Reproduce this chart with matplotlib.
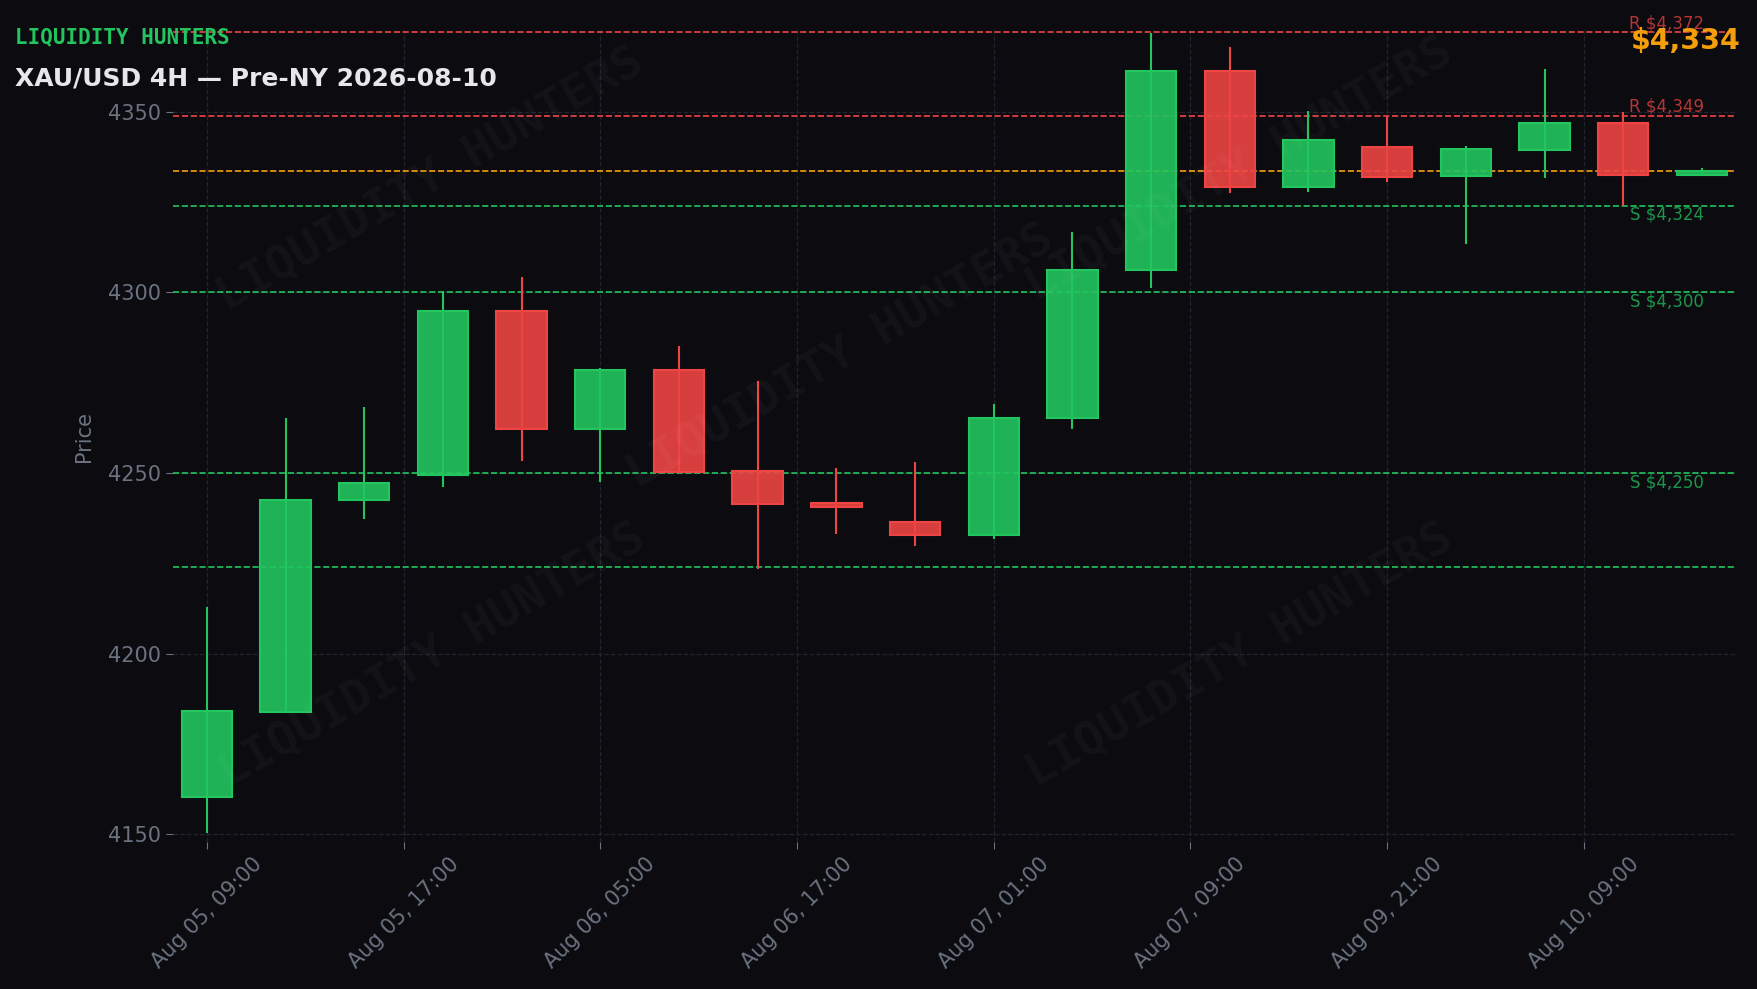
import matplotlib
matplotlib.use("Agg")
import matplotlib.pyplot as plt
from matplotlib.patches import Rectangle

# ---- data ----
opens  = [4160.4, 4183.8, 4242.5, 4249.4, 4295.0, 4262.1, 4278.6, 4250.5, 4241.6, 4236.5,
          4232.7, 4265.2, 4306.2, 4361.4, 4329.1, 4340.4, 4332.2, 4339.4, 4346.9, 4332.4]
highs  = [4213.0, 4265.2, 4268.3, 4300.4, 4304.3, 4279.2, 4285.1, 4275.5, 4251.4, 4253.0,
          4269.1, 4316.8, 4371.8, 4367.9, 4350.3, 4348.7, 4340.6, 4361.9, 4349.9, 4334.5]
lows   = [4150.4, 4183.5, 4237.3, 4246.0, 4253.4, 4247.5, 4250.0, 4223.5, 4233.2, 4229.9,
          4231.6, 4262.1, 4301.2, 4327.5, 4327.9, 4330.7, 4313.4, 4331.8, 4324.0, 4332.4]
closes = [4184.0, 4242.5, 4247.2, 4295.0, 4262.1, 4278.6, 4250.3, 4241.4, 4240.5, 4232.7,
          4265.2, 4306.3, 4361.4, 4329.1, 4342.1, 4331.9, 4339.7, 4346.9, 4332.4, 4333.7]

tick_pos = [0, 2.5, 5, 7.5, 10, 12.5, 15, 17.5]
tick_labels = ["Aug 05, 09:00", "Aug 05, 17:00", "Aug 06, 05:00", "Aug 06, 17:00",
               "Aug 07, 01:00", "Aug 07, 09:00", "Aug 09, 21:00", "Aug 10, 09:00"]

resistance = [4372, 4349]
support = [4324, 4300, 4250]
extra_support = [4224]
current_price = 4333.7

# ---- style ----
BG = "#0b0b10"
GREEN = "#22c55e"
RED = "#ef4444"
ORANGE = "#f59e0b"
GREY = "#6b7280"
GRID = "#23232e"

fig = plt.figure(figsize=(17.58, 9.89), dpi=100, facecolor=BG)
ax = fig.add_axes([0.0984, 0.1486, 0.8885, 0.8211])
ax.set_facecolor(BG)

width = 0.64
for i, (o, h, l, c) in enumerate(zip(opens, highs, lows, closes)):
    col = GREEN if c >= o else RED
    ax.vlines(i, l, h, color=col, linewidth=1.5, zorder=3)
    bottom = min(o, c)
    height = max(abs(c - o), 0.4)
    ax.add_patch(Rectangle((i - width / 2, bottom), width, height,
                           facecolor=col, alpha=0.9, edgecolor="none", zorder=4))
    ax.add_patch(Rectangle((i - width / 2, bottom), width, height,
                           facecolor="none", edgecolor=col, linewidth=1.5, zorder=5))

for lv in resistance:
    ax.axhline(lv, color=RED, linestyle="--", linewidth=1.2, zorder=2)
    ax.text(0.98, lv, f"R ${lv:,}", transform=ax.get_yaxis_transform(),
            ha="right", va="bottom", color=RED, alpha=0.75, fontsize=12, zorder=6)
for lv in support:
    ax.axhline(lv, color=GREEN, linestyle="--", linewidth=1.2, zorder=2)
    ax.text(0.98, lv, f"S ${lv:,}", transform=ax.get_yaxis_transform(),
            ha="right", va="top", color=GREEN, alpha=0.75, fontsize=12, zorder=6)
for lv in extra_support:
    ax.axhline(lv, color=GREEN, linestyle="--", linewidth=1.2, zorder=2)
ax.axhline(current_price, color=ORANGE, linestyle="--", linewidth=1.2, zorder=2)

ax.set_xlim(-0.43, 19.42)
ax.set_ylim(4147.8, 4372.7)
ax.set_yticks([4150, 4200, 4250, 4300, 4350])
ax.set_xticks(tick_pos)
ax.set_xticklabels(tick_labels, rotation=45, ha="center")
ax.tick_params(colors=GREY, labelcolor=GREY, labelsize=15, length=5)
ax.grid(True, color=GRID, linestyle="--", linewidth=0.9, zorder=0)
ax.set_axisbelow(True)
for s in ax.spines.values():
    s.set_visible(False)
ax.set_ylabel("Price", color=GREY, fontsize=15, labelpad=10)

# watermarks
wm = [(0.245, 0.818), (0.478, 0.639), (0.705, 0.828), (0.246, 0.337), (0.705, 0.337)]
for (x, y) in wm:
    fig.text(x, y, "LIQUIDITY HUNTERS", fontsize=34, family="DejaVu Sans Mono",
             fontweight="bold", color="white", alpha=0.035, rotation=30,
             ha="center", va="center", zorder=1)

fig.text(15 / 1758, 1 - 43 / 989, "LIQUIDITY HUNTERS", family="DejaVu Sans Mono",
         fontweight="bold", fontsize=15, color=GREEN, va="baseline", ha="left")
fig.text(15 / 1758, 1 - 85 / 989, "XAU/USD 4H — Pre-NY 2026-08-10", fontweight="bold",
         fontsize=18, color="#e5e7eb", va="baseline", ha="left")
fig.text(1741 / 1758, 1 - 49 / 989, f"${current_price:,.0f}", fontweight="bold",
         fontsize=20.5, color=ORANGE, va="baseline", ha="right")

fig.savefig("out.png", dpi=100, facecolor=BG)
